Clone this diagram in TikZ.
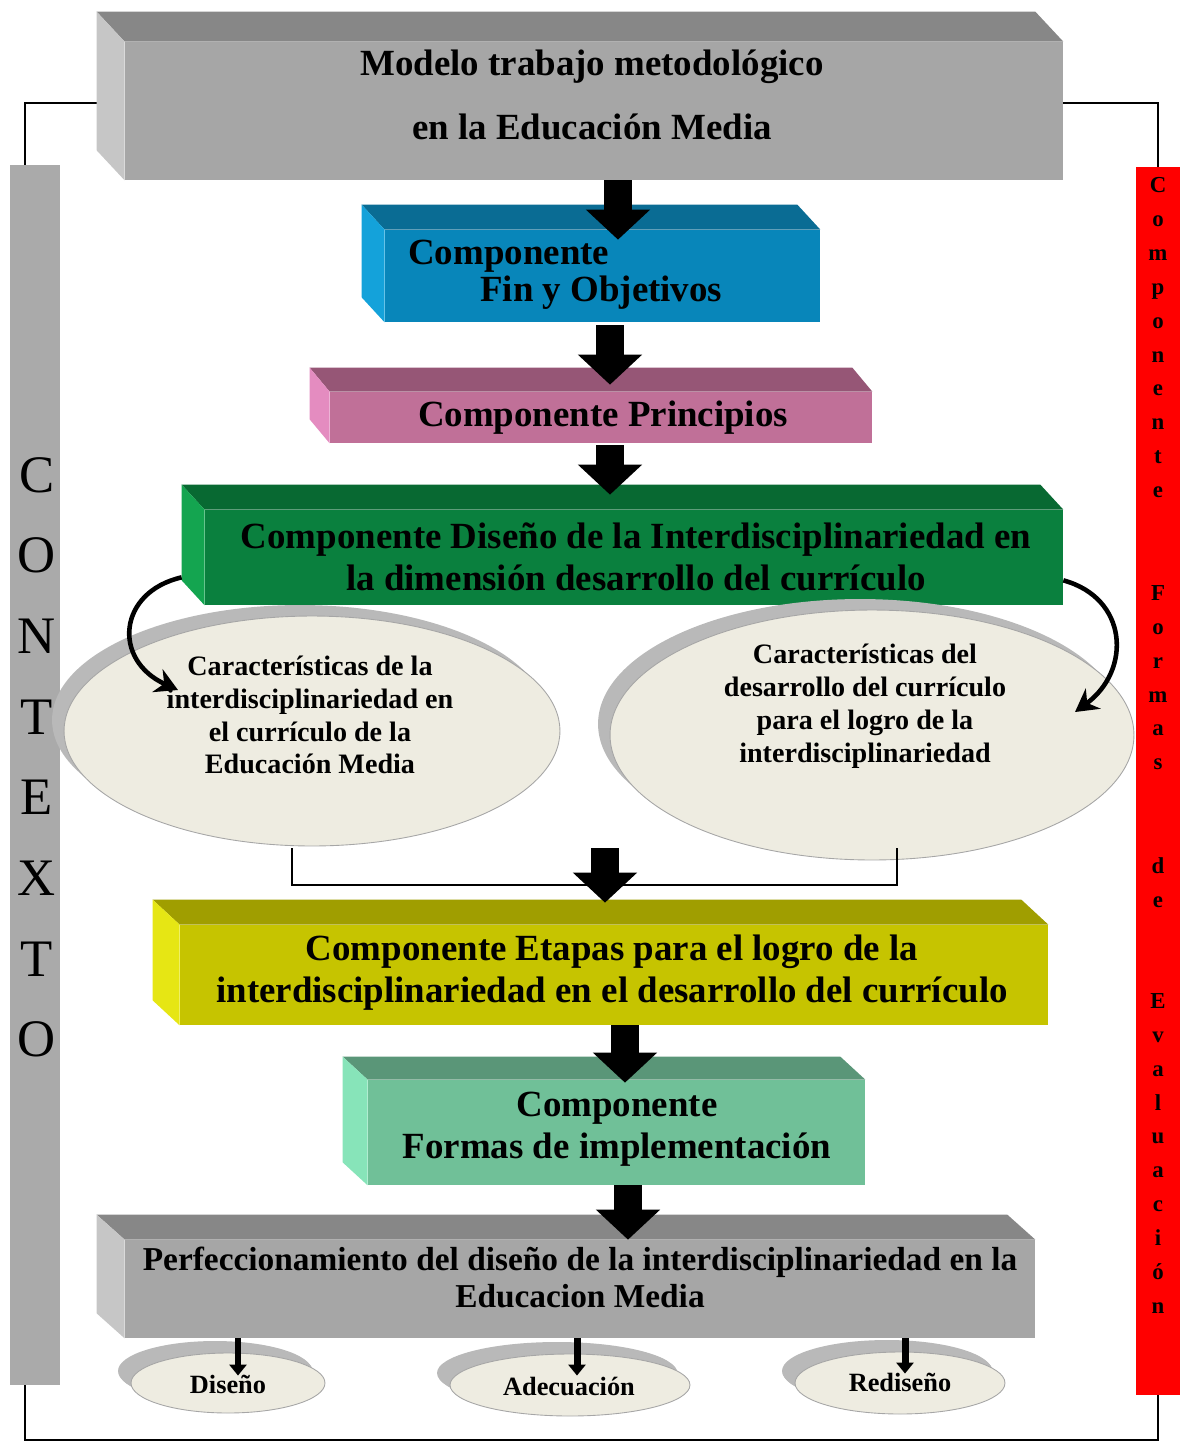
\documentclass[tikz,border=0pt]{standalone}
\usepackage{fontspec}
\setmainfont{Liberation Serif}
\usetikzlibrary{arrows.meta,shapes.geometric,shadows,calc}

\definecolor{grF}{RGB}{166,166,166}
\definecolor{grT}{RGB}{135,135,135}
\definecolor{grL}{RGB}{198,198,198}
\definecolor{blF}{RGB}{8,134,186}
\definecolor{blT}{RGB}{10,108,148}
\definecolor{blL}{RGB}{20,162,218}
\definecolor{pkF}{RGB}{192,112,152}
\definecolor{pkT}{RGB}{150,86,118}
\definecolor{pkL}{RGB}{228,140,192}
\definecolor{gnF}{RGB}{10,128,62}
\definecolor{gnT}{RGB}{8,105,50}
\definecolor{gnL}{RGB}{20,165,80}
\definecolor{ylF}{RGB}{198,196,0}
\definecolor{ylT}{RGB}{160,158,0}
\definecolor{ylL}{RGB}{230,230,20}
\definecolor{mnF}{RGB}{112,192,152}
\definecolor{mnT}{RGB}{90,150,120}
\definecolor{mnL}{RGB}{135,228,185}
\definecolor{elF}{RGB}{238,236,225}
\definecolor{elS}{RGB}{185,185,185}
\definecolor{barG}{RGB}{170,170,170}

\newcommand{\boxfaces}[5]{%
  \fill[#4] (#1.north west) -- ++(#2,#3) -- ($(#1.north east)+(#2,#3)$) -- (#1.north east) -- cycle;
  \fill[#5] (#1.north west) -- ++(#2,#3) -- ($(#1.south west)+(#2,#3)$) -- (#1.south west) -- cycle;
}

\begin{document}
\begin{tikzpicture}[x=0.02cm,y=-0.02cm,
  frontface/.style={draw=none,inner sep=0pt,rectangle},
  btext/.style={font=\bfseries\fontsize{21}{24}\selectfont,align=center,inner sep=0pt},
  etext/.style={font=\bfseries\fontsize{16}{18.7}\selectfont,align=center,inner sep=0pt},
  stext/.style={font=\bfseries\fontsize{15}{17}\selectfont,align=center,inner sep=0pt},
  ell/.style={ellipse,draw=gray!70,line width=0.5pt,fill=elF,inner sep=0pt,
    general shadow={shadow xshift=-0.24cm,shadow yshift=0.22cm,fill=elS}},
  smallell/.style={ell,general shadow={shadow xshift=-0.26cm,shadow yshift=0.24cm,fill=elS}},
  blockarrow/.style={line width=0.56cm,-{Triangle[width=1.25cm,length=0.6cm]},black},
  smallarrow/.style={line width=0.14cm,-{Triangle[width=0.34cm,length=0.22cm]},black},
  curvarrow/.style={line width=2.6pt,-{Stealth[width=0.5cm,length=0.45cm]},black},
  frameline/.style={line width=1.6pt,black}]
\useasboundingbox (0,0) rectangle (1182,1448);

% outer frame
\coordinate (fl) at (97,103);
\coordinate (fr) at (1063,103);
\coordinate (fbl) at (25,1440);
\coordinate (fbr) at (1158,1440);
\draw[frameline] (fl) -- (fl -| fbl) -- (fbl) -- (fbr) -- (fr -| fbr) -- (fr);

% side bars
\node[fill=barG,inner sep=0pt,minimum width=1cm,minimum height={1220*0.02cm}] (ctx) at (35,775) {};
\node[fill=red,inner sep=0pt,minimum width=0.88cm,minimum height={1228*0.02cm}] (ev) at (1158,781) {};
\node[anchor=north,align=center,inner sep=0pt,font=\fontsize{30}{45.9}\selectfont] (ctxT) at (37,457)
  {C\\O\\N\\T\\E\\X\\T\\O};
\begin{scope}[every node/.style={anchor=north,align=center,inner sep=0pt,font=\bfseries\fontsize{13}{19.3}\selectfont}]
\node (ev1) at (1158,177) {C\\o\\m\\p\\o\\n\\e\\n\\t\\e};
\node (ev2) at (1158,585) {F\\o\\r\\m\\a\\s};
\node (ev3) at (1158,857) {d\\e};
\node (ev4) at (1158,993) {E\\v\\a\\l\\u\\a\\c\\i\\ó\\n};
\end{scope}

% boxes
\node[frontface,fill=grF,minimum width={938*0.02cm},minimum height={138*0.02cm}] (top) at (594,111) {};
\boxfaces{top}{-28}{-30}{grT}{grL}
\node[frontface,fill=blF,minimum width={435*0.02cm},minimum height={92*0.02cm}] (fin) at (602.5,276) {};
\boxfaces{fin}{-23}{-25}{blT}{blL}
\node[frontface,fill=pkF,minimum width={542*0.02cm},minimum height={51*0.02cm}] (pri) at (601,417.5) {};
\boxfaces{pri}{-20}{-24}{pkT}{pkL}
\node[frontface,fill=gnF,minimum width={858*0.02cm},minimum height={95*0.02cm}] (dis) at (634,557.5) {};
\boxfaces{dis}{-23}{-25}{gnT}{gnL}
\node[frontface,fill=ylF,minimum width={868*0.02cm},minimum height={100*0.02cm}] (eta) at (614,975) {};
\boxfaces{eta}{-27}{-25}{ylT}{ylL}
\node[frontface,fill=mnF,minimum width={497*0.02cm},minimum height={105*0.02cm}] (imp) at (616.5,1132.5) {};
\boxfaces{imp}{-25}{-23}{mnT}{mnL}
\node[frontface,fill=grF,minimum width={910*0.02cm},minimum height={98*0.02cm}] (per) at (580,1289) {};
\boxfaces{per}{-28}{-25}{grT}{grL}

% ellipses
\node[ell,minimum width=9.92cm,minimum height=4.6cm] (L) at (312,731) {};
\node[ell,minimum width=10.48cm,minimum height=5cm] (R) at (872,735) {};
\node[smallell,minimum width=3.88cm,minimum height=1.2cm] (d1) at (228,1383) {};
\node[smallell,minimum width=4.8cm,minimum height=1.24cm] (d2) at (570,1385) {};
\node[smallell,minimum width=4.2cm,minimum height=1.24cm] (d3) at (900,1383) {};

% block arrows
\coordinate (c1) at (618,0);
\coordinate (c2) at (610,0);
\coordinate (c3) at (610,0);
\coordinate (c5) at (625,0);
\coordinate (c6) at (628,0);
\draw[blockarrow,shorten >=-0.2cm] (top.south -| c1) -- (fin.north -| c1);
\draw[blockarrow,shorten >=-0.14cm] ([yshift=-0.06cm]fin.south -| c2) -- ([yshift=0.28cm]pri.north -| c2);
\draw[blockarrow] ([yshift=-0.04cm]pri.south -| c3) -- ([yshift=0.3cm]dis.north -| c3);
\coordinate (bl) at (292,848);
\coordinate (br) at (897,848);
\coordinate (bm) at (605,848);
\draw[frameline] (bl) -- ++(0,37) -| (br);
\draw[blockarrow] (bm) -- ([yshift=0.44cm]eta.north -| bm);
\draw[blockarrow,shorten >=-0.06cm] (eta.south -| c5) -- (imp.north -| c5);
\draw[blockarrow] (imp.south -| c6) -- (per.north -| c6);

% curved arrows
\draw[curvarrow] ($(dis.south west)+(-23,-28)$) .. controls (118,592) and (112,660) .. ($(L.center)+(-134,-41)$);
\draw[curvarrow] ($(dis.south east)+(0,-25)$) .. controls (1128,598) and (1132,670) .. ($(R.center)+(203,-23)$);

% small arrows
\draw[smallarrow] ([xshift=0.2cm]per.south -| d1.north) -- ([xshift=0.2cm,yshift=-0.46cm]d1.north);
\draw[smallarrow] ([xshift=0.14cm]per.south -| d2.north) -- ([xshift=0.14cm,yshift=-0.44cm]d2.north);
\draw[smallarrow] ([xshift=0.1cm]per.south -| d3.north) -- ([xshift=0.1cm,yshift=-0.44cm]d3.north);

% texts
\node[btext,font=\bfseries\fontsize{21}{36}\selectfont] (topT) at (592,95) {Modelo trabajo metodológico\\en la Educación Media};
\node[btext,font=\bfseries\fontsize{21}{21}\selectfont,align=left,anchor=west] (finT) at (408,275) {Componente\\\hspace*{1.44cm}Fin y Objetivos};
\node[btext] (priT) at (603,418) {Componente Principios};
\node[btext] (disT) at (636,557) {Componente Diseño de la Interdisciplinariedad en\\la dimensión desarrollo del currículo};
\node[etext] (LT) at (310,715) {Características de la\\interdisciplinariedad en\\el currículo de la\\Educación Media};
\node[etext] (RT) at (865,706) {Características del\\desarrollo del currículo\\para el logro de la\\interdisciplinariedad};
\node[btext] (etaT) at (612,973) {Componente Etapas para el logro de la\\interdisciplinariedad en el desarrollo del currículo};
\node[btext] (impT) at (617,1129) {Componente\\Formas de implementación};
\node[btext,font=\bfseries\fontsize{19}{21}\selectfont] (perT) at (580,1277) {Perfeccionamiento del diseño de la interdisciplinariedad en la\\Educacion Media};
\node[stext] (d1T) at (228,1384) {Diseño};
\node[stext] (d2T) at (569,1386) {Adecuación};
\node[stext] (d3T) at (900,1382) {Rediseño};
\end{tikzpicture}
\end{document}
